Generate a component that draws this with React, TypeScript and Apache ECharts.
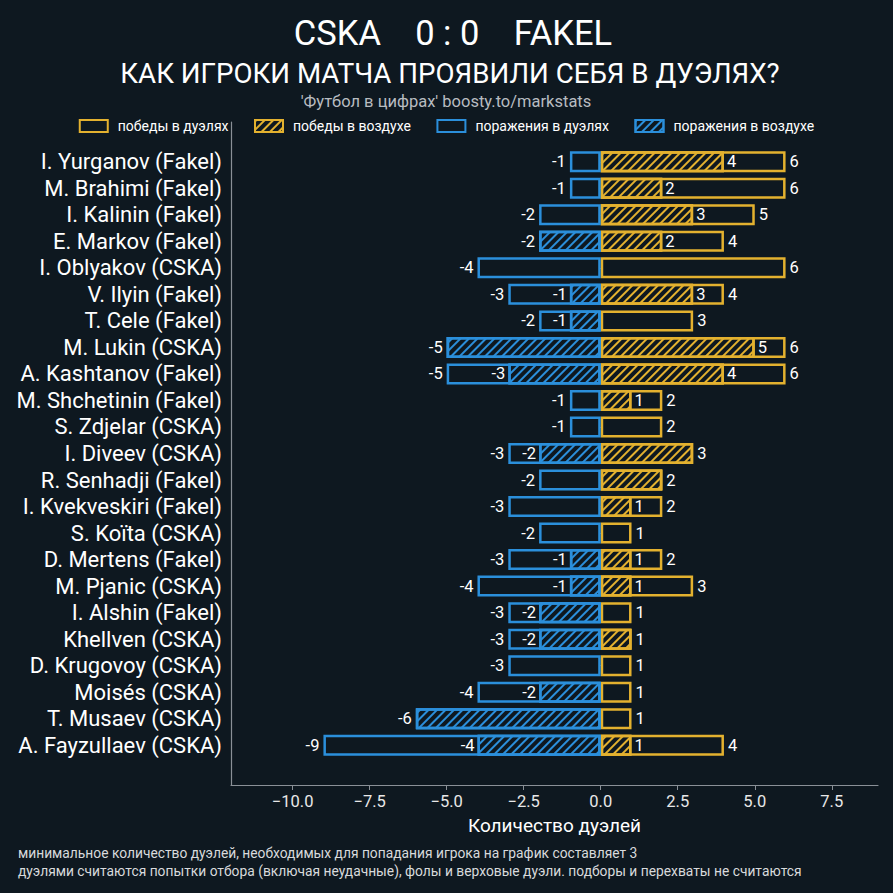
import React, { useEffect, useRef } from 'react';
import * as echarts from 'echarts';

const players = [
  'I. Yurganov (Fakel)', 'M. Brahimi (Fakel)', 'I. Kalinin (Fakel)', 'E. Markov (Fakel)',
  'I. Oblyakov (CSKA)', 'V. Ilyin (Fakel)', 'T. Cele (Fakel)', 'M. Lukin (CSKA)',
  'A. Kashtanov (Fakel)', 'M. Shchetinin (Fakel)', 'S. Zdjelar (CSKA)', 'I. Diveev (CSKA)',
  'R. Senhadji (Fakel)', 'I. Kvekveskiri (Fakel)', 'S. Koïta (CSKA)', 'D. Mertens (Fakel)',
  'M. Pjanic (CSKA)', 'I. Alshin (Fakel)', 'Khellven (CSKA)', 'D. Krugovoy (CSKA)',
  'Moisés (CSKA)', 'T. Musaev (CSKA)', 'A. Fayzullaev (CSKA)',
];
const wonTotal = [6, 6, 5, 4, 6, 4, 3, 6, 6, 2, 2, 3, 2, 2, 1, 2, 3, 1, 1, 1, 1, 1, 4];
const wonAir = [4, 2, 3, 2, 0, 3, 0, 5, 4, 1, 0, 3, 2, 1, 0, 1, 1, 0, 1, 0, 0, 0, 1];
const lostTotal = [1, 1, 2, 2, 4, 3, 2, 5, 5, 1, 1, 3, 2, 3, 2, 3, 4, 3, 3, 3, 4, 6, 9];
const lostAir = [0, 0, 0, 2, 0, 1, 1, 5, 3, 0, 0, 2, 0, 0, 0, 1, 1, 2, 2, 0, 2, 6, 4];
const xTicks = [-10, -7.5, -5, -2.5, 0, 2.5, 5, 7.5];
const seriesNames = ['победы в дуэлях', 'победы в воздухе', 'поражения в дуэлях', 'поражения в воздухе'];
const titleText = 'CSKA    0 : 0    FAKEL';
const subtitleText = 'КАК ИГРОКИ МАТЧА ПРОЯВИЛИ СЕБЯ В ДУЭЛЯХ?';
const sourceText = "'Футбол в цифрах' boosty.to/markstats";
const footnotes = [
  'минимальное количество дуэлей, необходимых для попадания игрока на график составляет 3',
  'дуэлями считаются попытки отбора (включая неудачные), фолы и верховые дуэли. подборы и перехваты не считаются',
];

const BG = '#0e1820';
const GOLD = '#e3b12f';
const BLUE = '#2b8fdb';
const AXIS = '#8a9097';
const FONT = 'Roboto';

function hatch(color: string) {
  return {
    symbol: 'rect',
    symbolSize: 1,
    color,
    backgroundColor: null,
    dashArrayX: [1, 0],
    dashArrayY: [1.3, 3.2],
    rotation: -Math.PI / 4,
  };
}

function txt(text: string, x: number, y: number, size: number, fill: string, align: string) {
  return {
    type: 'text', x, y, silent: true,
    style: { text, fill, font: `${size}px ${FONT}`, textAlign: align, textVerticalAlign: 'middle' },
  };
}

export default function App() {
  const ref = useRef<HTMLDivElement>(null);
  useEffect(() => {
    const chart = echarts.init(ref.current!, null, { renderer: 'svg' });
    const labelBase = { show: true, color: '#ffffff', fontSize: 16.5, fontFamily: FONT, distance: 4 };
    const common = { type: 'bar', barWidth: 21, barGap: '-100%', xAxisIndex: 0, yAxisIndex: 0 };
    const option: any = {
      animation: false,
      backgroundColor: BG,
      textStyle: { fontFamily: FONT },
      graphic: [
        txt(titleText, 453, 33, 34.5, '#ffffff', 'center'),
        txt(subtitleText, 450, 73, 27.7, '#ffffff', 'center'),
        txt(sourceText, 446, 101, 16.5, '#b8bcc0', 'center'),
        txt(footnotes[0], 18, 853, 13.8, '#d8dadc', 'left'),
        txt(footnotes[1], 18, 871, 13.8, '#d8dadc', 'left'),
      ],
      legend: {
        data: seriesNames.map((n) => ({ name: n, icon: 'rect' })),
        left: 'center',
        top: 119,
        padding: 0,
        itemWidth: 28,
        itemHeight: 12,
        itemGap: 25.5,
        textStyle: { color: '#ffffff', fontSize: 14, fontFamily: FONT, padding: [0, 0, 0, 5] },
      },
      grid: [
        { left: 231, right: 15, top: 148.5, bottom: 134.5 },
        { left: 231, right: 15, top: 122, bottom: 108 },
      ],
      xAxis: [
        { type: 'value', gridIndex: 0, min: -12, max: 9, show: false },
        {
          type: 'value', gridIndex: 1, min: -12, max: 9,
          splitLine: { show: false },
          axisLine: { show: true, onZero: false, lineStyle: { color: AXIS, width: 1.2 } },
          axisTick: { show: true, length: 5, lineStyle: { color: AXIS }, customValues: xTicks },
          axisLabel: {
            color: '#e8e8e8', fontSize: 16.5, fontFamily: FONT, margin: 8, customValues: xTicks,
            formatter: (v: number) => (v < 0 ? '\u2212' : '') + Math.abs(v).toFixed(1),
          },
          name: 'Количество дуэлей',
          nameLocation: 'middle',
          nameGap: 31,
          nameTextStyle: { color: '#ffffff', fontSize: 19, fontFamily: FONT },
        },
      ],
      yAxis: [
        {
          type: 'category', gridIndex: 0, data: players, inverse: true,
          axisLine: { show: false },
          axisTick: { show: true, alignWithLabel: true, interval: 0, length: 4, lineStyle: { color: AXIS } },
          axisLabel: { color: '#ffffff', fontSize: 22, fontFamily: FONT, margin: 9, interval: 0 },
        },
        {
          type: 'value', gridIndex: 1, min: 0, max: 1,
          axisLine: { show: true, onZero: false, lineStyle: { color: AXIS, width: 1.2 } },
          axisTick: { show: false }, axisLabel: { show: false }, splitLine: { show: false },
        },
      ],
      series: [
        {
          ...common, name: seriesNames[0],
          data: wonTotal.map((v) => v),
          itemStyle: { color: BG, borderColor: GOLD, borderWidth: 2.5 },
          label: { ...labelBase, position: 'right' },
        },
        {
          ...common, name: seriesNames[1],
          data: wonAir.map((v, i) => (v === 0 ? '-' : { value: v, label: { show: v !== wonTotal[i] } })),
          itemStyle: { color: BG, borderColor: GOLD, borderWidth: 2.5, decal: hatch(GOLD) },
          label: { ...labelBase, position: 'right', distance: 3 },
        },
        {
          ...common, name: seriesNames[2],
          data: lostTotal.map((v) => -v),
          itemStyle: { color: BG, borderColor: BLUE, borderWidth: 2.5 },
          label: { ...labelBase, position: 'left' },
        },
        {
          ...common, name: seriesNames[3],
          data: lostAir.map((v, i) => (v === 0 ? '-' : { value: -v, label: { show: v !== lostTotal[i] } })),
          itemStyle: { color: BG, borderColor: BLUE, borderWidth: 2.5, decal: hatch(BLUE) },
          label: { ...labelBase, position: 'left', distance: 3 },
        },
      ],
    };
    chart.setOption(option);
    return () => chart.dispose();
  }, []);
  return (
    <div
      ref={ref}
      style={{ position: 'absolute', left: 0, top: 0, width: 893, height: 893, background: BG }}
    />
  );
}
